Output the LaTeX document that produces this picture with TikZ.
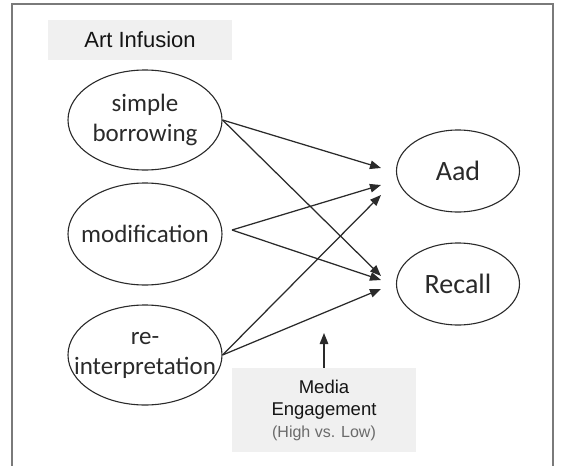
\documentclass[tikz,border=0pt]{standalone}
\usepackage{fontspec}
\setmainfont{Liberation Sans}
\newfontfamily\calibri{Carlito}
\usetikzlibrary{arrows.meta,positioning,shapes.geometric}
\definecolor{ink}{HTML}{2A2A2A}
\definecolor{rim}{HTML}{7A7A7A}
\definecolor{shade}{HTML}{F0F0F0}
\definecolor{note}{HTML}{6A6A6A}
\tikzset{
  oval/.style={ellipse, draw=ink, line width=1.1pt, minimum width=154pt, minimum height=100pt,
               inner sep=0pt},
  word/.style={align=center, inner sep=0pt, text=ink, font=\calibri\fontsize{25}{30}\selectfont},
  outcome/.style={oval, minimum width=123pt, minimum height=82pt, text=ink,
                  font=\calibri\fontsize{28}{32}\selectfont},
  tag/.style={rectangle, fill=shade, draw=none, align=center, text=black!92},
  link/.style={-{Triangle[length=11pt,width=8.5pt]}, draw=ink, line width=1.25pt},
}
\begin{document}
\begin{tikzpicture}[x=1pt,y=-1pt]
\useasboundingbox (0,0) rectangle (563,466);
% frame, open at the bottom
\draw[rim, line width=1.6pt] (12,466) |- (553,4) -- (553,466);

\node[tag, minimum width=184pt, minimum height=40pt, font=\fontsize{22}{26}\selectfont]
  (infusion) at (140,40) {Art Infusion};

% the three kinds of infusion
\node[oval, label={[word]center:{simple\\borrowing}}] (borrow) at (145,120) {};
\node[oval, minimum height=102pt, label={[word]center:modification}] (modif) at (145,234) {};
\node[oval, label={[word]center:{re-\\interpretation}}] (reinterp) at (145,355) {};

% outcomes
\node[outcome] (aad) at (458,171) {Aad};
\node[outcome] (recall) at (458,284) {Recall};

\node[tag, minimum width=184pt, minimum height=84pt, font=\fontsize{18.5}{22}\selectfont]
  (media) at (324,410) {Media\\Engagement\\{\color{note}\fontsize{16}{22}\selectfont(High vs. Low)}};

\coordinate (modTip) at (232,230);
\coordinate (aadA) at (381,168);
\coordinate (aadB) at (381,185);
\coordinate (aadC) at (381,195);
\coordinate (recA) at (381,276);
\coordinate (recB) at (381,280);
\coordinate (recC) at (381,289);
\coordinate (cue) at (324,333);

\draw[link] (borrow.east) -- (aadA);
\draw[link] (borrow.east) -- (recA);
\draw[link] (modTip) -- (aadB);
\draw[link] (modTip) -- (recB);
\draw[link] (reinterp.east) -- (aadC);
\draw[link] (reinterp.east) -- (recC);
\draw[link] (media.north) -- (cue);
\end{tikzpicture}
\end{document}
